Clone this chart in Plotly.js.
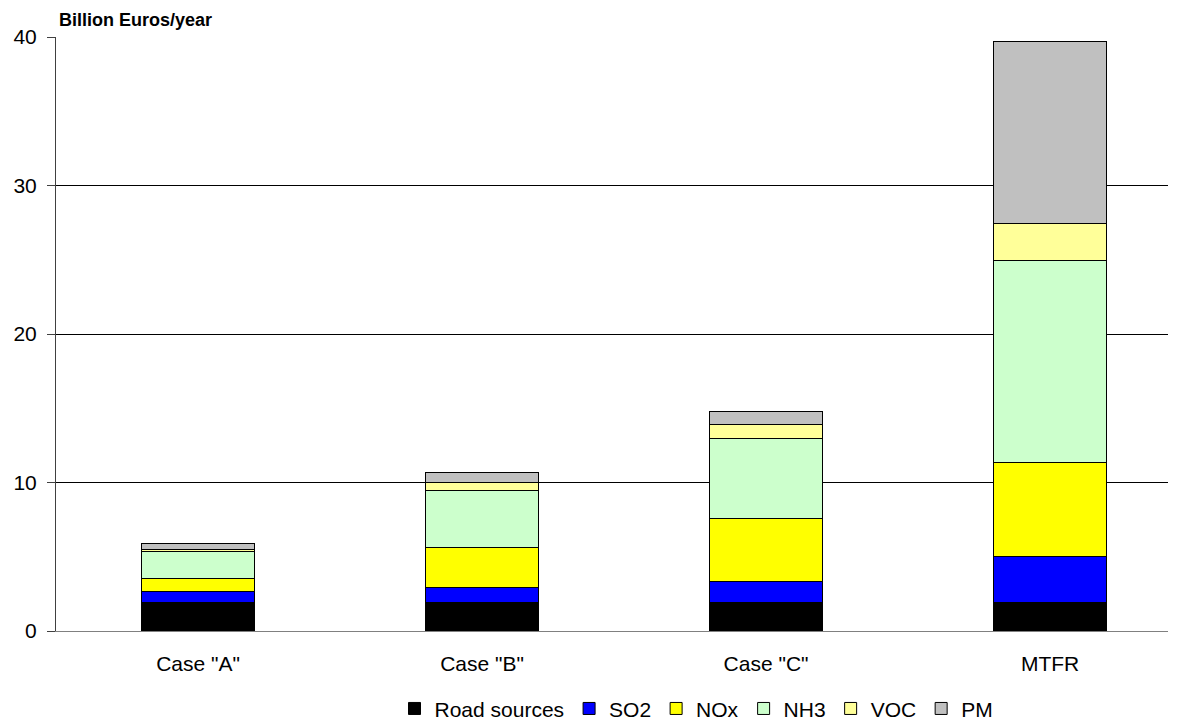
<!DOCTYPE html>
<html>
<head>
<meta charset="utf-8">
<script src="https://cdn.plot.ly/plotly-3.0.1.min.js"></script>
<style>html,body{margin:0;padding:0;background:#fff;}#chart{width:1182px;height:724px;}</style>
</head>
<body>
<div id="chart"></div>
<script>
const categories = ['Case "A"', 'Case "B"', 'Case "C"', 'MTFR'];
const roadSources = [1.9, 1.9, 1.9, 1.9];
const so2 = [0.79, 1.02, 1.44, 3.1];
const nox = [0.86, 2.72, 4.24, 6.33];
const nh3 = [1.79, 3.79, 5.39, 13.61];
const voc = [0.15, 0.56, 0.94, 2.47];
const pm = [0.41, 0.7, 0.9, 12.32];
const yTicks = [0, 10, 20, 30, 40];

const series = [
  {name: 'Road sources', y: roadSources, color: '#000000'},
  {name: 'SO2', y: so2, color: '#0000FF'},
  {name: 'NOx', y: nox, color: '#FFFF00'},
  {name: 'NH3', y: nh3, color: '#CCFFCC'},
  {name: 'VOC', y: voc, color: '#FFFF99'},
  {name: 'PM', y: pm, color: '#C0C0C0'}
];

const traces = series.map(s => ({
  type: 'bar',
  name: s.name,
  x: categories,
  y: s.y,
  marker: {color: s.color, line: {color: '#000000', width: 1}},
  hoverinfo: 'x+y+name'
}));

const layout = {
  width: 1182, height: 724,
  barmode: 'stack',
  bargap: 0.6,
  margin: {l: 56, r: 14, t: 37, b: 93, autoexpand: false},
  paper_bgcolor: '#fff', plot_bgcolor: '#fff',
  font: {family: 'Liberation Sans, Arial, sans-serif', size: 21, color: '#000'},
  xaxis: {
    type: 'category',
    range: [-0.5, 3.415],
    showline: true, linecolor: '#808080', linewidth: 1,
    ticks: '', tickfont: {size: 21}, showgrid: false,
    ticklabelstandoff: 14
  },
  yaxis: {
    range: [0, 40], tickvals: yTicks, ticktext: yTicks.map(String),
    showline: true, linecolor: '#404040', linewidth: 1,
    ticks: 'outside', ticklen: 8, tickcolor: '#404040',
    showgrid: true, gridcolor: '#000000', gridwidth: 1,
    zeroline: false, tickfont: {size: 21}, ticklabelstandoff: 6
  },
  showlegend: true,
  legend: {
    orientation: 'h', x: 0.576, xanchor: 'center', y: -0.131, yanchor: 'middle',
    font: {size: 21}, traceorder: 'normal', itemwidth: 30,
    borderwidth: 0, bgcolor: 'rgba(0,0,0,0)'
  },
  annotations: [{
    text: '<b>Billion Euros/year</b>', xref: 'paper', yref: 'paper',
    x: 0.0005, y: 1.0286, xanchor: 'left', yanchor: 'middle',
    showarrow: false, font: {size: 18}
  }]
};

Plotly.newPlot('chart', traces, layout, {displayModeBar: false});
</script>
</body>
</html>
